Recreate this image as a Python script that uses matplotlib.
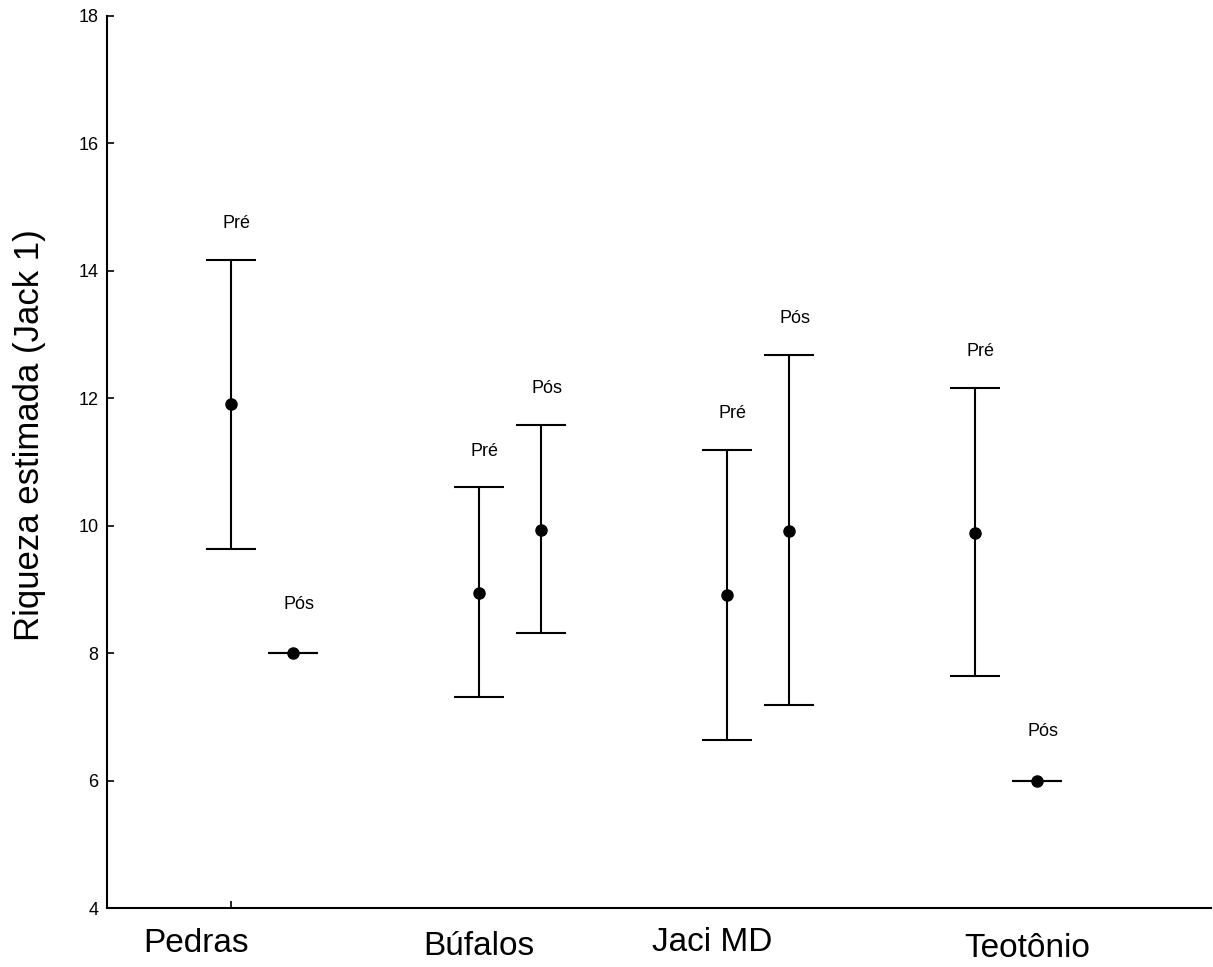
import numpy as np
import matplotlib
matplotlib.use('Agg')
import matplotlib.pyplot as plt
import matplotlib.transforms as mtransforms

plt.rcParams['font.family'] = ['Liberation Sans', 'DejaVu Sans']

# data (Jackknife 1 richness, mean and CI limits)
sites = ['Pedras', 'Búfalos', 'Jaci MD', 'Teotônio']
periods = ['Pré', 'Pós']
mean_pre = [11.91, 8.94, 8.91, 9.89]
low_pre = [9.63, 7.31, 6.64, 7.64]
high_pre = [14.17, 10.60, 11.19, 12.16]
mean_pos = [8.0, 9.94, 9.92, 6.0]
low_pos = [8.0, 8.32, 7.18, 6.0]
high_pos = [8.0, 11.58, 12.68, 6.0]

# layout
group_gap = 4
label_x = [-0.56, 4.0, 7.76, 12.84]
label_y = [-0.040, -0.043, -0.039, -0.045]

fig = plt.figure(figsize=(12.13, 9.67), dpi=100)
ax = fig.add_axes([0.0882, 0.061, 0.91, 0.9225])

for k, (m, lo, hi) in enumerate([(mean_pre, low_pre, high_pre),
                                 (mean_pos, low_pos, high_pos)]):
    x = np.arange(len(sites)) * group_gap + k
    m = np.array(m)
    yerr = np.vstack([m - np.array(lo), np.array(hi) - m])
    ax.errorbar(x, m, yerr=yerr, fmt='o', color='black', ms=8,
                elinewidth=1.5, capsize=18, capthick=1.5)
    for xi, h, l in zip(x, hi, lo):
        off = 26 if h > l else 35
        ax.annotate(periods[k], (xi, h), xytext=(4, off),
                    textcoords='offset points', ha='center', va='center',
                    fontsize=13)

ax.set_xlim(-2, 15.8)
ax.set_ylim(4, 18)
ax.set_yticks(np.arange(4, 19, 2))
ax.set_xticks([0])
ax.set_xticklabels([''])
ax.tick_params(direction='in', length=5, width=1.2, labelsize=13, pad=6)
ax.spines['top'].set_visible(False)
ax.spines['right'].set_visible(False)
for s in ['left', 'bottom']:
    ax.spines[s].set_linewidth(1.5)

trans = mtransforms.blended_transform_factory(ax.transData, ax.transAxes)
for name, lx, ly in zip(sites, label_x, label_y):
    ax.text(lx, ly, name, transform=trans, ha='center', va='center',
            fontsize=24)

fig.text(30 / 1213, 1 - 435 / 967, 'Riqueza estimada (Jack 1)',
         rotation=90, ha='center', va='center', fontsize=25)

fig.savefig('out.png', dpi=100)
